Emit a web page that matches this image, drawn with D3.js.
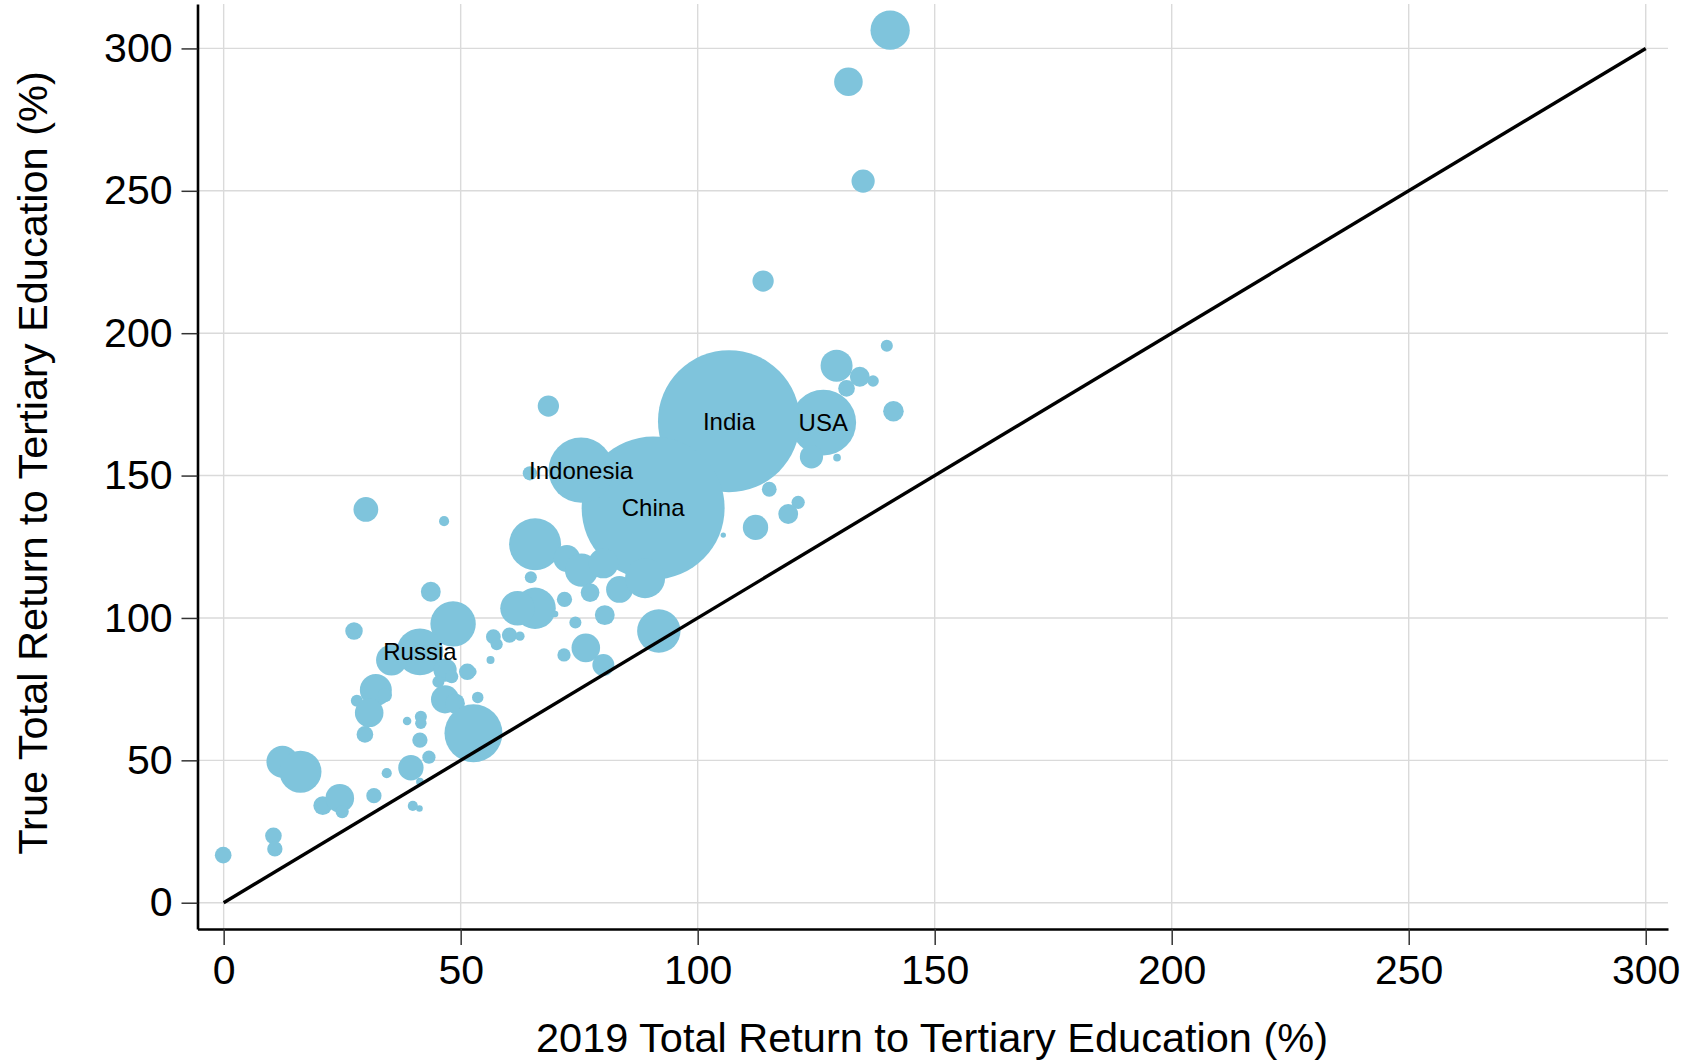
<!DOCTYPE html>
<html>
<head>
<meta charset="utf-8">
<script src="https://cdn.jsdelivr.net/npm/d3@7"></script>
<style>
  body { margin: 0; background: #fff; }
  text { font-family: "Liberation Sans", Arial, sans-serif; }
</style>
</head>
<body>
<div id="chart"></div>
<script>
// 2019 return vs true return, bubble size ~ population (millions)
var ret2019 = [140.6, 131.8, 134.9, 113.8, 139.9, 129.3, 134.2, 137.0, 131.4, 141.3,
    126.5, 124.0, 129.4, 115.1, 121.2, 119.1, 112.2, 105.4, 106.6, 90.6,
    75.4, 64.6, 68.5, 65.7, 72.4, 75.5, 80.1, 77.3, 64.8, 83.5,
    88.9, 71.9, 80.4, 74.2, 65.7, 62.0, 60.3, 62.5, 56.9, 57.6,
    56.3, 76.4, 71.8, 80.1, 91.8, 52.3, 48.4, 69.9, 43.7, 27.5,
    41.4, 35.4, 46.7, 48.1, 45.3, 51.4, 32.1, 34.0, 28.1, 30.7,
    29.8, 46.7, 48.8, 53.6, 52.7, 38.7, 41.6, 41.6, 41.4, 39.5,
    43.3, -0.1, 10.5, 10.8, 12.4, 16.2, 20.9, 24.5, 25.0, 31.7,
    34.4, 39.9, 41.3, 41.4, 30.0, 46.5];
var retTrue = [306.4, 288.3, 253.4, 218.3, 195.6, 188.6, 184.7, 183.2, 180.6, 172.6,
    168.6, 156.6, 156.3, 145.2, 140.6, 136.5, 131.8, 129.1, 169.1, 138.6,
    151.9, 150.8, 174.4, 125.9, 120.9, 116.8, 119.2, 108.9, 114.3, 110.0,
    114.0, 106.5, 101.0, 98.4, 103.4, 103.4, 94.0, 93.6, 93.4, 90.8,
    85.2, 89.5, 87.0, 83.5, 95.4, 81.1, 97.9, 101.4, 109.2, 95.4,
    88.1, 85.2, 81.7, 79.4, 77.6, 81.1, 74.7, 72.9, 70.9, 66.7,
    59.1, 71.4, 70.0, 72.1, 59.5, 63.8, 65.3, 63.0, 57.1, 47.4,
    51.1, 16.7, 23.5, 18.9, 49.5, 46.0, 34.1, 36.7, 32.0, 37.6,
    45.5, 34.0, 33.1, 42.5, 138.1, 134.0];
var population = [106, 56, 37, 31, 10, 70, 27, 9, 19, 29,
    295, 37, 4, 15, 12, 27, 44, 2, 1380, 1400,
    290, 14, 31, 185, 49, 76, 62, 24, 10, 49,
    110, 16, 27, 10, 117, 82, 16, 6, 15, 10,
    4.4, 56, 12, 33, 129, 7, 141, 3, 27, 21,
    150, 65, 37, 12, 10, 19, 70, 14, 10, 56,
    19, 54, 27, 9, 230, 5, 10, 9, 16, 44,
    12, 19, 19, 16, 70, 121, 24, 56, 12, 16,
    7, 7, 3, 4, 42, 7];
var labels = {10: "USA", 18: "India", 19: "China", 20: "Indonesia", 50: "Russia"};
var tickVals = [0, 50, 100, 150, 200, 250, 300];

var width = 1695, height = 1064;
var bubbleColor = "#7fc4dc";

var svg = d3.select("#chart").append("svg")
    .attr("width", width)
    .attr("height", height);

var x = d3.scaleLinear().domain([-5.52, 304.7]).range([197.5, 1668]);
var y = d3.scaleLinear().domain([-9.23, 315.6]).range([929, 4]);
var r = d3.scaleSqrt().domain([0, 1400]).range([0, 71.5]);

// grid
svg.append("g").selectAll("line.gx")
    .data(tickVals).enter().append("line")
    .attr("x1", function(d) { return x(d); })
    .attr("x2", function(d) { return x(d); })
    .attr("y1", y.range()[1])
    .attr("y2", y.range()[0])
    .attr("stroke", "#dadada")
    .attr("stroke-width", 1.4);
svg.append("g").selectAll("line.gy")
    .data(tickVals).enter().append("line")
    .attr("x1", x.range()[0])
    .attr("x2", x.range()[1])
    .attr("y1", function(d) { return y(d); })
    .attr("y2", function(d) { return y(d); })
    .attr("stroke", "#dadada")
    .attr("stroke-width", 1.4);

var pts = ret2019.map(function(d, i) {
    return {x: d, y: retTrue[i], pop: population[i], label: labels[i] || ""};
});

svg.append("g").selectAll("circle")
    .data(pts).enter().append("circle")
    .attr("cx", function(d) { return x(d.x); })
    .attr("cy", function(d) { return y(d.y); })
    .attr("r", function(d) { return r(d.pop); })
    .attr("fill", bubbleColor);

// 45 degree line
svg.append("line")
    .attr("x1", x(0)).attr("y1", y(0))
    .attr("x2", x(300)).attr("y2", y(300))
    .attr("stroke", "#000")
    .attr("stroke-width", 3.4);

svg.append("g").selectAll("text.lab")
    .data(pts.filter(function(d) { return d.label; })).enter().append("text")
    .attr("x", function(d) { return x(d.x); })
    .attr("y", function(d) { return y(d.y); })
    .attr("dy", "0.35em")
    .attr("text-anchor", "middle")
    .attr("font-size", 24)
    .text(function(d) { return d.label; });

// axes
var xAxis = svg.append("g")
    .attr("transform", "translate(0," + y.range()[0] + ")")
    .call(d3.axisBottom(x).tickValues(tickVals).tickSize(16).tickSizeOuter(0).tickPadding(10));
var yAxis = svg.append("g")
    .attr("transform", "translate(" + x.range()[0] + ",0)")
    .call(d3.axisLeft(y).tickValues(tickVals).tickSize(16).tickSizeOuter(0).tickPadding(9));

[xAxis, yAxis].forEach(function(ax) {
    ax.select(".domain").attr("stroke", "#000").attr("stroke-width", 2.6);
    ax.selectAll(".tick line").attr("stroke", "#333").attr("stroke-width", 1.5);
    ax.selectAll(".tick text")
        .attr("font-size", 41)
        .attr("font-family", "Liberation Sans, Arial, sans-serif")
        .attr("fill", "#000");
});

svg.append("text")
    .attr("x", 932)
    .attr("y", 1052)
    .attr("text-anchor", "middle")
    .attr("font-size", 41.5)
    .text("2019 Total Return to Tertiary Education (%)");

svg.append("text")
    .attr("transform", "translate(47," + 463 + ") rotate(-90)")
    .attr("text-anchor", "middle")
    .attr("font-size", 41.5)
    .text("True Total Return to Tertiary Education (%)");
</script>
</body>
</html>
